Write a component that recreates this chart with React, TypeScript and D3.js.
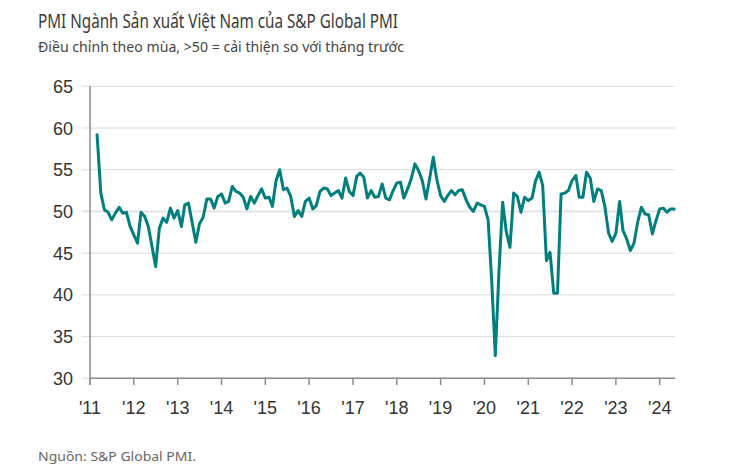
import React from 'react';
import * as d3 from 'd3';

// Vietnam manufacturing PMI, monthly (2011 starts in March)
const pmi2011 = [59.2, 52.2, 50.2, 49.9, 49.0, 49.8, 50.5, 49.8, 49.9, 48.2];
const pmi2012 = [47.2, 46.2, 49.9, 49.4, 48.2, 45.8, 43.4, 48.0, 49.2, 48.7, 50.4, 49.2];
const pmi2013 = [50.1, 48.2, 50.8, 51.0, 48.7, 46.3, 48.5, 49.3, 51.5, 51.5, 50.4, 51.8];
const pmi2014 = [52.1, 51.0, 51.2, 53.0, 52.4, 52.2, 51.7, 50.3, 51.8, 51.0, 51.9, 52.7];
const pmi2015 = [51.6, 51.7, 50.6, 53.7, 55.0, 52.6, 52.8, 51.8, 49.4, 50.1, 49.4, 51.2];
const pmi2016 = [51.6, 50.3, 50.7, 52.4, 52.8, 52.7, 51.9, 52.2, 52.5, 51.6, 54.0, 52.4];
const pmi2017 = [51.9, 54.2, 54.6, 54.1, 51.6, 52.5, 51.7, 51.8, 53.3, 51.6, 51.4, 52.5];
const pmi2018 = [53.4, 53.5, 51.6, 52.7, 53.9, 55.7, 54.9, 53.7, 51.5, 53.9, 56.5, 53.8];
const pmi2019 = [51.9, 51.2, 51.9, 52.5, 52.0, 52.5, 52.6, 51.4, 50.5, 50.0, 51.0, 50.8];
const pmi2020 = [50.6, 49.0, 41.9, 32.7, 42.7, 51.1, 47.6, 45.7, 52.2, 51.8, 49.9, 51.7];
const pmi2021 = [51.3, 51.6, 53.6, 54.7, 53.1, 44.1, 45.1, 40.2, 40.2, 52.1, 52.2, 52.5];
const pmi2022 = [53.7, 54.3, 51.7, 51.7, 54.7, 54.0, 51.2, 52.7, 52.5, 50.6, 47.4, 46.4];
const pmi2023 = [47.4, 51.2, 47.7, 46.7, 45.3, 46.2, 48.7, 50.5, 49.7, 49.6, 47.3, 48.9];
const pmi2024 = [50.3, 50.4, 49.9, 50.3, 50.3];

const years = [2011, 2012, 2013, 2014, 2015, 2016, 2017, 2018, 2019, 2020, 2021, 2022, 2023, 2024];
const xLabels = ["'11", "'12", "'13", "'14", "'15", "'16", "'17", "'18", "'19", "'20", "'21", "'22", "'23", "'24"];
const yTicks = [30, 35, 40, 45, 50, 55, 60, 65];

const title = 'PMI Ngành Sản xuất Việt Nam của S&P Global PMI';
const subtitle = 'Điều chỉnh theo mùa, >50 = cải thiện so với tháng trước';
const source = 'Nguồn: S&P Global PMI.';

const seriesByYear = [pmi2011, pmi2012, pmi2013, pmi2014, pmi2015, pmi2016, pmi2017, pmi2018, pmi2019, pmi2020, pmi2021, pmi2022, pmi2023, pmi2024];

type Pt = { date: Date; value: number };

export default function App() {
  const data: Pt[] = [];
  seriesByYear.forEach((arr, i) => {
    const yr = years[i];
    const offset = i === 0 ? 12 - arr.length : 0;
    arr.forEach((v, j) => data.push({ date: new Date(yr, offset + j, 1), value: v }));
  });

  const x = d3.scaleTime().domain([new Date(2011, 0, 1), new Date(2024, 0, 1)]).range([90, 659.7]);
  const y = d3.scaleLinear().domain([30, 65]).range([378.3, 86.3]);
  const line = d3.line<Pt>().x(d => x(d.date)).y(d => y(d.value));

  const plotLeft = 90;
  const plotRight = 675;
  const axisFont = '"Liberation Sans", Arial, sans-serif';
  const textFont = '"Source Sans Pro", "Noto Sans", sans-serif';

  return (
    <svg width={754} height={470} style={{ position: 'absolute', left: 0, top: 0, background: '#fff' }}>
      <text x={38} y={28} fontFamily={textFont} fontSize={19} fill="#3a3a3a" textLength={360} lengthAdjust="spacingAndGlyphs">{title}</text>
      <text x={38} y={52} fontFamily={textFont} fontSize={14} fill="#444" textLength={366} lengthAdjust="spacingAndGlyphs">{subtitle}</text>

      {yTicks.map(t => (
        <g key={t}>
          <line x1={82} x2={plotRight} y1={y(t)} y2={y(t)} stroke={t === 50 ? '#e3e3e3' : '#dcdcdc'} strokeWidth={t === 50 ? 2 : 1} />
          <text x={73} y={y(t) + 6.5} textAnchor="end" fontFamily={axisFont} fontSize={18} fill="#333">{t}</text>
        </g>
      ))}

      <line x1={plotLeft} x2={plotLeft} y1={y(65)} y2={385} stroke="#8c8c8c" strokeWidth={1.5} />
      <line x1={plotLeft} x2={plotRight} y1={y(30)} y2={y(30)} stroke="#8c8c8c" strokeWidth={1.5} />

      {years.map((yr, i) => {
        const xp = x(new Date(yr, 0, 1));
        return (
          <g key={yr}>
            <line x1={xp} x2={xp} y1={y(30)} y2={385} stroke="#8c8c8c" strokeWidth={1.5} />
            <text x={xp} y={414} textAnchor="middle" fontFamily={axisFont} fontSize={18} fill="#333">{xLabels[i]}</text>
          </g>
        );
      })}

      <path d={line(data) || ''} fill="none" stroke="#007f7e" strokeWidth={3} strokeLinejoin="round" strokeLinecap="round" />

      <text x={38} y={461} fontFamily={textFont} fontSize={13} fill="#666" textLength={158} lengthAdjust="spacingAndGlyphs">{source}</text>
    </svg>
  );
}
